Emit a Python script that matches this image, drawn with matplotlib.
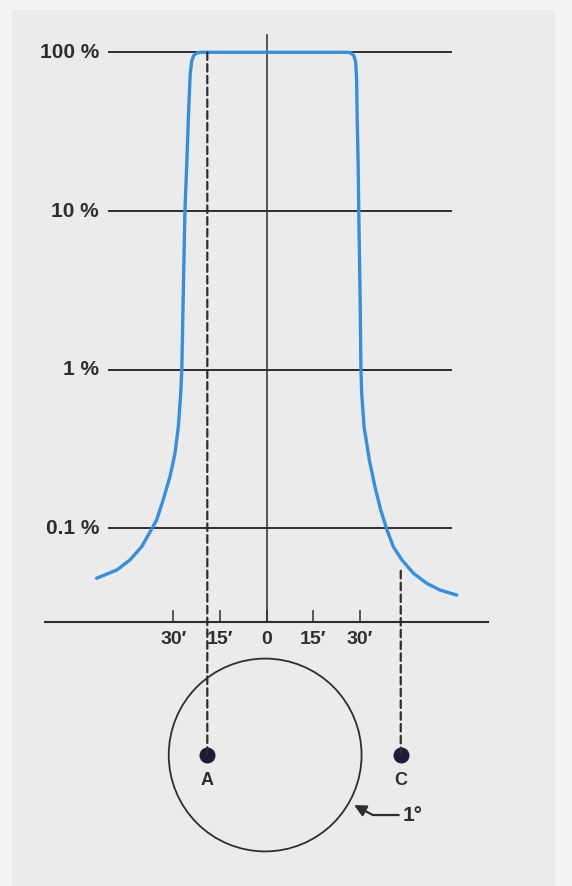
import matplotlib
matplotlib.use("Agg")
import matplotlib.pyplot as plt
from matplotlib.patches import Circle, Rectangle, ConnectionPatch

plt.rcParams['font.family'] = ['Liberation Sans', 'DejaVu Sans']

# beam profile: offset from centre (arc minutes) vs relative intensity (%)
profile_x = [-54.7, -48.2, -44.0, -40.2, -37.0, -35.4, -33.3, -31.1, -29.5, -28.4,
             -27.65, -27.3, -26.8, -26.3, -25.7, -25.2, -24.6, -24.1, -23.5, -22.7, -21.4,
             26.2, 27.3, 28.1, 28.6, 28.9, 29.1, 29.4, 29.6, 30.0, 30.3,
             30.55, 31.3, 33.0, 34.8, 36.65, 38.6, 40.7, 43.5, 47.2, 51.45, 55.7, 61.1]
profile_y = [0.0485, 0.0547, 0.0632, 0.0767, 0.099, 0.113, 0.151, 0.212, 0.297, 0.438,
             0.71, 1.0, 3.2, 10, 19.8, 38, 73, 88, 95, 98.6, 100,
             100, 98.6, 94.4, 87, 68, 38, 19.8, 10, 3.2, 1.0,
             0.71, 0.438, 0.27, 0.183, 0.131, 0.099, 0.0767, 0.0632, 0.0521, 0.0451, 0.0409, 0.038]

grid_levels = [100, 10, 1, 0.1]
grid_labels = ["100 %", "10 %", "1 %", "0.1 %"]

tick_pos = [-30, -15, 0, 15, 30]
tick_labels = ["30\u2032", "15\u2032", "0", "15\u2032", "30\u2032"]

# sources below the beam: name, offset (arcmin), top of dashed guide (%)
source_names = ["A", "C"]
source_x = [-19.1, 43.1]
source_top = [100, 0.054]

beam_radius = 31.0   # arcmin, the 1 degree circle
beam_centre = -0.5

line_col = "#2e2e2e"
blue = "#3590dc"
dot_col = "#1d1b35"

# layout in pixels (figure 572 x 886)
W, H = 572, 886
x_left, x_right = 45, 488
x_zero, px_per_min = 266.7, 3.11
y_axis = 621.7
y_100, px_decade = 52.3, 158.7

xlim = ((x_left - x_zero) / px_per_min, (x_right - x_zero) / px_per_min)
ylim = (10 ** (2 - (y_axis - y_100) / px_decade), 10 ** (2 + y_100 / px_decade))

fig = plt.figure(figsize=(W / 100, H / 100), dpi=100)
fig.patch.set_facecolor("#f4f4f4")
fig.patches.append(Rectangle((12 / W, 0), (555 - 12) / W, (H - 10) / H,
                             transform=fig.transFigure, facecolor="#ebebeb",
                             edgecolor="none", zorder=-10))

# ---- beam profile (log intensity)
ax = fig.add_axes([x_left / W, (H - y_axis) / H, (x_right - x_left) / W, y_axis / H])
ax.set_facecolor("none")
ax.set_yscale("log")
ax.set_xlim(*xlim)
ax.set_ylim(*ylim)
for s in ["top", "left", "right"]:
    ax.spines[s].set_visible(False)
ax.spines["bottom"].set_linewidth(1.5)
ax.spines["bottom"].set_color(line_col)
ax.set_yticks([])
ax.minorticks_off()
ax.set_xticks(tick_pos)
ax.set_xticklabels(tick_labels, fontsize=14, fontweight="bold", color=line_col)
ax.tick_params(axis="x", direction="in", length=8.5, width=1.1, color=line_col, pad=7)

grid_x0, grid_x1 = -51.0, 59.5
ax.hlines(grid_levels, grid_x0, grid_x1, color=line_col, lw=1.4, zorder=2)
for lev, lab in zip(grid_levels, grid_labels):
    ax.text(-53.9, lev, lab, ha="right", va="center", fontsize=15,
            fontweight="bold", color=line_col)

ax.vlines(0, ylim[0], 130, color=line_col, lw=1.1, zorder=2)
ax.plot(profile_x, profile_y, color=blue, lw=2.4, zorder=3,
        solid_joinstyle="round", solid_capstyle="round")

# ---- the 1 degree field below
ax2 = fig.add_axes([x_left / W, 0, (x_right - x_left) / W, (H - y_axis) / H])
ax2.set_facecolor("none")
ax2.axis("off")
top_min = (755 - y_axis) / px_per_min
ax2.set_xlim(*xlim)
ax2.set_ylim(top_min - (H - y_axis) / px_per_min, top_min)

ax2.add_patch(Circle((beam_centre, 0), beam_radius, fill=False, lw=1.3, ec=line_col))

for name, sx, st in zip(source_names, source_x, source_top):
    con = ConnectionPatch(xyA=(sx, st), coordsA=ax.transData,
                          xyB=(sx, 0), coordsB=ax2.transData,
                          color=line_col, lw=1.6, linestyle=(0, (3.4, 1.9)), zorder=4)
    fig.add_artist(con)
    ax2.plot(sx, 0, "o", ms=10.5, color=dot_col, zorder=5, clip_on=False)
    ax2.text(sx, -5.4, name, ha="center", va="top", fontsize=13,
             fontweight="bold", color=line_col)

ax2.annotate("1\u00b0", xy=(28.1, -16.1), xytext=(43.8, -19.3),
             ha="left", va="center", fontsize=15, fontweight="bold", color=line_col,
             arrowprops=dict(arrowstyle="-|>,head_length=0.5,head_width=0.25",
                             color=line_col, lw=1.6,
                             mutation_scale=14, shrinkA=1, shrinkB=0,
                             connectionstyle="angle,angleA=0,angleB=-28,rad=0"))

fig.savefig("out.png", dpi=100, facecolor=fig.get_facecolor())
